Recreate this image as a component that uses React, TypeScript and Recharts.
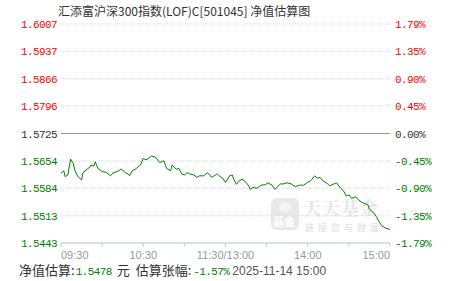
import { LineChart, Line, XAxis, YAxis, CartesianGrid, ReferenceLine } from "recharts";

// minute index from 09:30 (lunch break removed, 240 = 15:00)
const minutes = [
  0, 2, 3, 5, 7, 9, 10, 12, 15, 16, 19, 21, 22, 24, 25, 27, 30, 33, 36, 38,
  42, 44, 47, 49, 50, 52, 55, 58, 60, 62, 63, 66, 69, 72, 75, 77, 80, 81, 84, 86,
  88, 90, 92, 94, 97, 99, 101, 104, 107, 110, 114, 116, 118, 120, 123, 125, 126, 128, 130, 132,
  134, 137, 138, 140, 143, 146, 149, 151, 154, 156, 160, 162, 165, 168, 171, 174, 177, 179, 182, 183,
  185, 187, 189, 191, 194, 196, 199, 201, 204, 206, 208, 210, 212, 215, 217, 219, 221, 224, 225, 228,
  230, 232, 234, 237, 240,
];
const navs = [
  1.5623, 1.5629, 1.5614, 1.5618, 1.5659, 1.5648, 1.5631, 1.5616, 1.5605, 1.5624,
  1.5633, 1.5638, 1.5644, 1.5641, 1.5652, 1.5635, 1.5627, 1.5625, 1.5616, 1.5623,
  1.5629, 1.5633, 1.5624, 1.5621, 1.5616, 1.5629, 1.5635, 1.5644, 1.5661, 1.5657,
  1.5659, 1.5667, 1.5664, 1.565, 1.5655, 1.5635, 1.5629, 1.5644, 1.5633, 1.5635,
  1.5621, 1.5618, 1.5624, 1.5621, 1.5618, 1.5612, 1.5616, 1.5616, 1.5624, 1.5612,
  1.5621, 1.5614, 1.561, 1.5599, 1.5616, 1.5618, 1.5607, 1.5594, 1.5603, 1.5607,
  1.5603, 1.559, 1.5581, 1.5586, 1.5584, 1.5592, 1.5593, 1.5598, 1.5592, 1.5581,
  1.5595, 1.5595, 1.5598, 1.5595, 1.5588, 1.5592, 1.5592, 1.5597, 1.5603, 1.5607,
  1.5616, 1.561, 1.5612, 1.5603, 1.5597, 1.559, 1.5595, 1.5598, 1.5584, 1.5578,
  1.5564, 1.5567, 1.5558, 1.5562, 1.5554, 1.5549, 1.5545, 1.5541, 1.553, 1.5521,
  1.5511, 1.5498, 1.5487, 1.5481, 1.5478,
];
const baseNav = 1.5725;
const navTicks = [1.5443, 1.5513, 1.5584, 1.5654, 1.5725, 1.5796, 1.5866, 1.5937, 1.6007];
const pctLabels = ["-1.79%", "-1.35%", "-0.90%", "-0.45%", "0.00%", "0.45%", "0.90%", "1.35%", "1.79%"];
const timeTicks = [0, 30, 60, 90, 120, 150, 180, 210, 240];
const timeLabels = ["09:30", "", "10:30", "", "11:30/13:00", "", "14:00", "", "15:00"];

const data = minutes.map((m, i) => ({ m, nav: navs[i] }));

const mono = "'Liberation Mono', 'DejaVu Sans Mono', monospace";
const cjk = "'Noto Sans CJK SC', sans-serif";
const green = "#008000";
const red = "#ff0000";

const colorFor = (v: number) => (v > baseNav ? red : v < baseNav ? green : "#333");

const LeftTick = ({ x, y, payload }: any) => (
  <text x={x} y={y} dy={4} textAnchor="end" fill={colorFor(payload.value)} fontSize={11} fontFamily={mono} letterSpacing={-0.6}>
    {payload.value.toFixed(4)}
  </text>
);

const RightTick = ({ x, y, payload }: any) => (
  <text x={x} y={y} dy={4} textAnchor="start" fill={colorFor(payload.value)} fontSize={11} fontFamily={mono} letterSpacing={-0.6}>
    {pctLabels[navTicks.indexOf(payload.value)]}
  </text>
);

const TimeTick = ({ x, y, payload }: any) => {
  const v = payload.value;
  const anchor = v === 0 ? "start" : v === 240 ? "end" : "middle";
  return (
    <text x={x} y={y} dy={10} textAnchor={anchor} fill="#999" fontSize={11} fontFamily="'Liberation Sans', Arial, sans-serif">
      {timeLabels[timeTicks.indexOf(v)]}
    </text>
  );
};

export default function App() {
  return (
    <div style={{ position: "absolute", left: 0, top: 0, width: 451, height: 281, background: "#fff", overflow: "hidden" }}>
      <div style={{ position: "absolute", left: 58, top: 3, fontSize: 12, lineHeight: "16px", color: "#333", fontFamily: cjk, whiteSpace: "nowrap" }}>
        汇添富沪深300指数(LOF)C[501045] 净值估算图
      </div>
      {/* watermark */}
      <div style={{ position: "absolute", left: 271, top: 198, width: 28, height: 32, borderRadius: 6, background: "#e8e8e8" }}>
        <div style={{ position: "absolute", left: 8, top: 4, width: 12, height: 10, borderRadius: 6, background: "#f4f4f4" }} />
        <div style={{ position: "absolute", left: 2, top: 17, fontSize: 11, lineHeight: "12px", color: "#fff", fontFamily: cjk, fontWeight: 700 }}>基金</div>
      </div>
      <div style={{ position: "absolute", left: 303, top: 197, fontSize: 18, lineHeight: "20px", color: "#e6e6e6", fontFamily: "'Noto Serif CJK SC', " + cjk, fontWeight: 700, letterSpacing: 1, whiteSpace: "nowrap" }}>
        天天基金
      </div>
      <div style={{ position: "absolute", left: 305, top: 222, fontSize: 9, lineHeight: "12px", color: "#dcdcdc", fontFamily: cjk, letterSpacing: 4, whiteSpace: "nowrap" }}>
        链接您与财富
      </div>
      <div style={{ position: "absolute", left: 0, top: 0 }}>
        <LineChart width={451} height={281} data={data} margin={{ top: 24, right: 0, bottom: 0, left: 0 }}>
          <CartesianGrid yAxisId="l" vertical={false} stroke="#d6d6d6" strokeDasharray="1 1" />
          <XAxis
            dataKey="m"
            type="number"
            domain={[0, 240]}
            ticks={timeTicks}
            height={38}
            stroke="#bccbdb"
            tickSize={4}
            tickMargin={2}
            tick={<TimeTick />}
            interval={0}
          />
          <YAxis
            yAxisId="l"
            orientation="left"
            width={61}
            domain={[1.5443, 1.6007]}
            ticks={navTicks}
            axisLine={false}
            tickLine={false}
            tickSize={0}
            tickMargin={4}
            tick={<LeftTick />}
            interval={0}
            allowDataOverflow
          />
          <YAxis
            yAxisId="r"
            orientation="right"
            width={61}
            domain={[1.5443, 1.6007]}
            ticks={navTicks}
            axisLine={false}
            tickLine={false}
            tickSize={0}
            tickMargin={5}
            tick={<RightTick />}
            interval={0}
            allowDataOverflow
          />
          <ReferenceLine yAxisId="l" y={baseNav} stroke="#999" />
          <Line yAxisId="l" dataKey="nav" stroke={green} strokeWidth={1} dot={false} type="linear" isAnimationActive={false} />
        </LineChart>
      </div>
      <div style={{ position: "absolute", left: 19, top: 262, fontSize: 13, lineHeight: "16px", color: "#333", fontFamily: cjk, whiteSpace: "nowrap" }}>
        <span>净值估算:</span>
        <span style={{ color: green, fontFamily: mono, fontSize: 11, letterSpacing: -0.6, marginLeft: 1 }}>1.5478</span>
        <span style={{ marginLeft: 5 }}>元</span>
        <span style={{ marginLeft: 6 }}>估算张幅:</span>
        <span style={{ color: green, fontFamily: mono, fontSize: 11, letterSpacing: -0.6, marginLeft: 2 }}>-1.57%</span>
        <span style={{ color: "#555", fontFamily: "'Liberation Sans', Arial, sans-serif", fontSize: 12, marginLeft: 3 }}>2025-11-14 15:00</span>
      </div>
    </div>
  );
}
